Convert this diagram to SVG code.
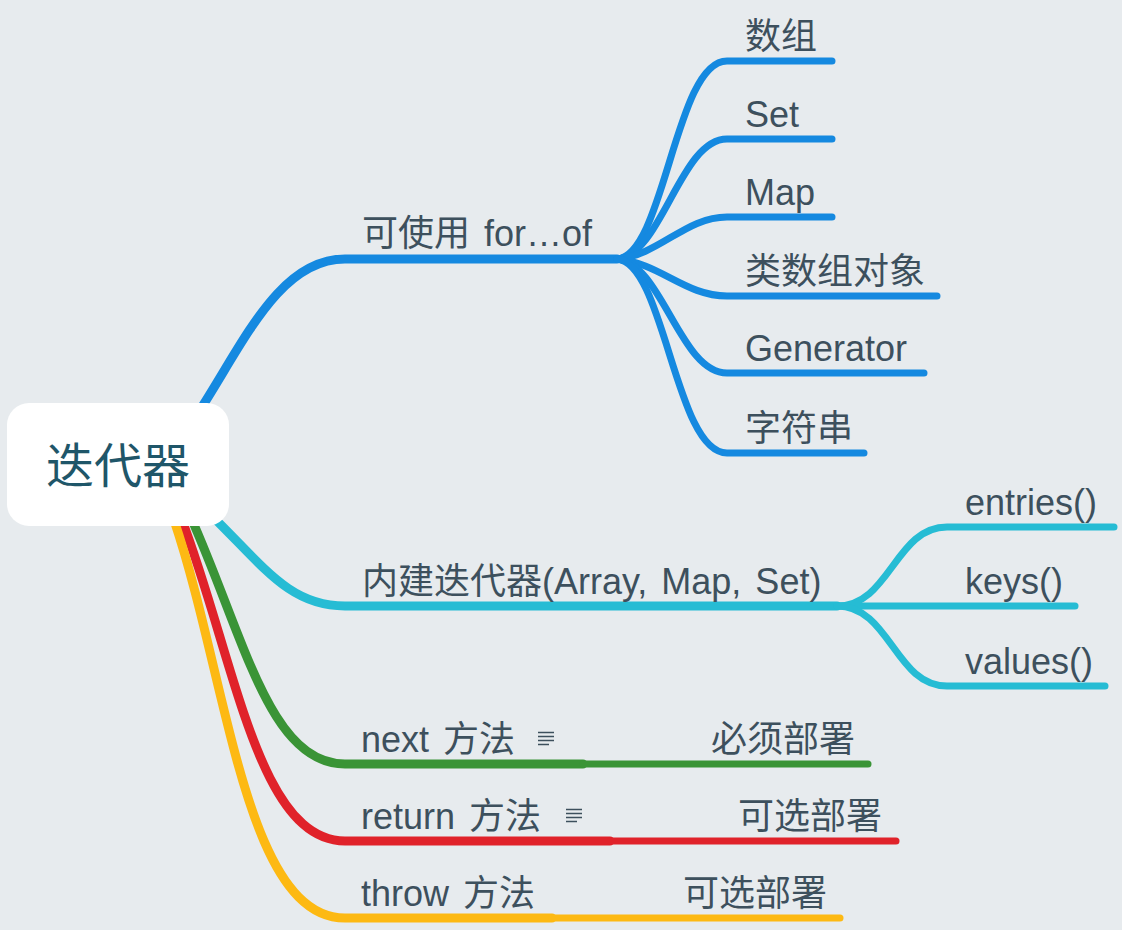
<svg xmlns="http://www.w3.org/2000/svg" width="1122" height="930" viewBox="0 0 1122 930">
<style>
.t{font-family:"Liberation Sans","Noto Sans CJK SC",sans-serif;font-size:36px;fill:#3d505d;word-spacing:4px}
.root{font-family:"Liberation Sans","Noto Sans CJK SC",sans-serif;font-size:48px;fill:#1f5669}
.c{fill:none;stroke-linecap:round}
.m{stroke-width:9}
.s{stroke-width:7}
.b{stroke:#1589e0}
.cy{stroke:#26bcd4}
.g{stroke:#3a9436}
.r{stroke:#e0222a}
.y{stroke:#fdb913}
.note{fill:none;stroke:#3d505d;stroke-width:1.6}
</style>
<rect width="1122" height="930" fill="#e7ebee"/>
<g id="connectors">
<path class="c m b" d="M200 410 C245 340 280 259 345 259 L617 259"/>
<path class="c s b" d="M617 259 C665 255 675 61 727 61 L832 61"/>
<path class="c s b" d="M617 259 C662 255 680 139 727 139 L832 139"/>
<path class="c s b" d="M617 259 C660 255 685 217 727 217 L832 217"/>
<path class="c s b" d="M617 259 C660 263 685 296 727 296 L937 296"/>
<path class="c s b" d="M617 259 C662 263 680 373 727 373 L924 373"/>
<path class="c s b" d="M617 259 C665 263 675 453 727 453 L864 453"/>
<path class="c m cy" d="M212 516 C265 568 290 606 345 606 L837 606"/>
<path class="c s cy" d="M837 606 C890 606 895 527 947 527 L1114 527"/>
<path class="c s cy" d="M837 606 L1075 606"/>
<path class="c s cy" d="M837 606 C890 606 895 686 947 686 L1105 686"/>
<path class="c m g" d="M192 520 C245 640 270 764 345 764 L583 764"/>
<path class="c s g" d="M583 764 L868 764"/>
<path class="c m r" d="M182 520 C235 660 258 841 345 841 L610 841"/>
<path class="c s r" d="M610 841 L896 841"/>
<path class="c m y" d="M174 520 C228 680 245 918 345 918 L552 918"/>
<path class="c s y" d="M552 918 L840 918"/>
</g>
<g id="root">
<rect x="7" y="403" width="222" height="123" rx="22" fill="#ffffff"/>
<text class="root" x="118" y="483" text-anchor="middle">迭代器</text>
</g>
<g id="n-forof"><text class="t" x="362" y="246">可使用 for…of</text></g>
<g id="n-array"><text class="t" x="745" y="49">数组</text></g>
<g id="n-set"><text class="t" x="745" y="127">Set</text></g>
<g id="n-map"><text class="t" x="745" y="205">Map</text></g>
<g id="n-arraylike"><text class="t" x="745" y="284">类数组对象</text></g>
<g id="n-generator"><text class="t" x="745" y="361">Generator</text></g>
<g id="n-string"><text class="t" x="745" y="441">字符串</text></g>
<g id="n-builtin"><text class="t" x="362" y="594">内建迭代器(Array, Map, Set)</text></g>
<g id="n-entries"><text class="t" x="965" y="515">entries()</text></g>
<g id="n-keys"><text class="t" x="965" y="594">keys()</text></g>
<g id="n-values"><text class="t" x="965" y="674">values()</text></g>
<g id="n-next">
<text class="t" x="361" y="752">next 方法</text>
<path class="note" d="M538 732.5h16M538 736.5h16M538 740.5h16M538 744.5h11"/>
</g>
<g id="n-next-req"><text class="t" x="855" y="752" text-anchor="end">必须部署</text></g>
<g id="n-return">
<text class="t" x="361" y="829">return 方法</text>
<path class="note" d="M566 809.5h16M566 813.5h16M566 817.5h16M566 821.5h11"/>
</g>
<g id="n-return-opt"><text class="t" x="882" y="829" text-anchor="end">可选部署</text></g>
<g id="n-throw"><text class="t" x="361" y="906">throw 方法</text></g>
<g id="n-throw-opt"><text class="t" x="827" y="906" text-anchor="end">可选部署</text></g>
</svg>
